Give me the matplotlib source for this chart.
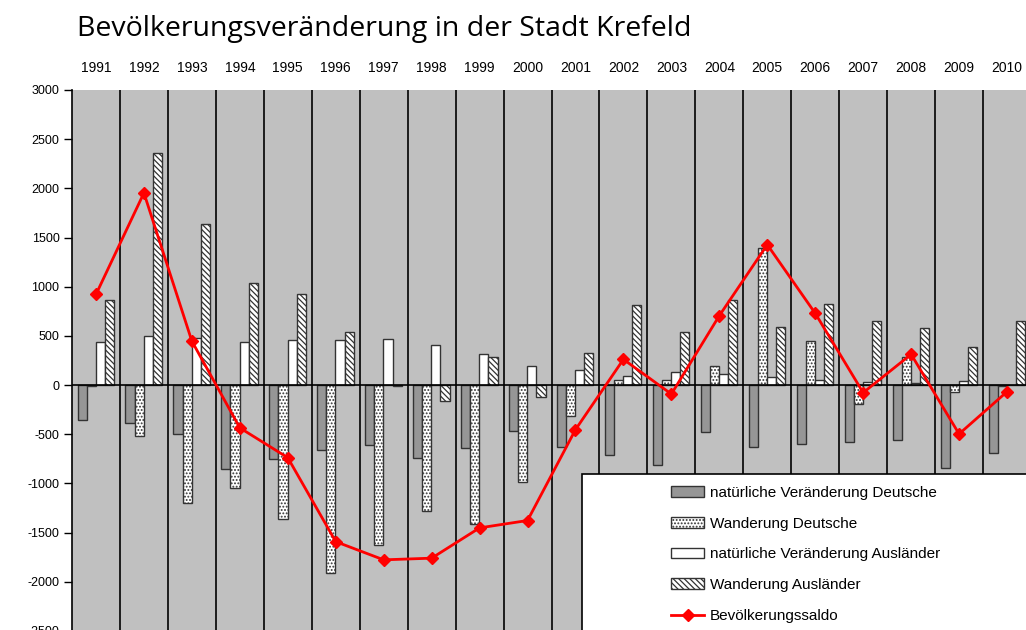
import numpy as np
import matplotlib
matplotlib.use("Agg")
import matplotlib.pyplot as plt
from matplotlib.patches import Rectangle

years = list(range(1991, 2011))
nat_deutsche = [-357, -386, -500, -857, -750, -657, -607, -739, -643, -471,
                -632, -711, -814, -475, -627, -603, -576, -563, -848, -695]
wand_deutsche = [-10, -518, -1196, -1050, -1364, -1914, -1632, -1286, -1418, -982,
                 -314, 50, 51, 197, 1390, 444, -197, 288, -75, -10]
nat_auslaender = [436, 496, 482, 436, 461, 461, 471, 404, 314, 196,
                  157, 89, 129, 115, 78, 51, 34, 17, 37, 0]
wand_auslaender = [864, 2357, 1639, 1036, 921, 539, -10, -161, 286, -121,
                   329, 814, 536, 864, 586, 824, 654, 576, 390, 654]
saldo = [921, 1953, 446, -436, -739, -1593, -1778, -1761, -1453, -1378,
         -454, 261, -92, 705, 1427, 729, -78, 312, -498, -68]

labels = ["natürliche Veränderung Deutsche", "Wanderung Deutsche",
          "natürliche Veränderung Ausländer", "Wanderung Ausländer",
          "Bevölkerungssaldo"]

plt.rcParams['font.family'] = ['Liberation Sans', 'DejaVu Sans']
plt.rcParams['hatch.linewidth'] = 0.9
plt.rcParams['axes.unicode_minus'] = False

W, H = 1026, 630
fig = plt.figure(figsize=(W / 100, H / 100), dpi=100)
# axes runs off the right and bottom edge like in the reference
ax = fig.add_axes([72 / W, (H - 680) / H, 959 / W, 590 / H])
ax.set_facecolor('#c0c0c0')

x = np.arange(len(years))
bw = 0.19
offs = [-0.29, -0.1, 0.09, 0.28]
b1 = ax.bar(x + offs[0], nat_deutsche, bw, color='#969696', edgecolor='#333333', lw=1, zorder=3)
b2 = ax.bar(x + offs[1], wand_deutsche, bw, color='white', edgecolor='#333333', hatch='.....', lw=1, zorder=3)
b3 = ax.bar(x + offs[2], nat_auslaender, bw, color='white', edgecolor='#333333', lw=1, zorder=3)
b4 = ax.bar(x + offs[3], wand_auslaender, bw, color='white', edgecolor='#333333', hatch='\\\\\\\\\\\\', lw=1, zorder=3)
ln, = ax.plot(x, saldo, color='red', lw=2, marker='D', ms=6, zorder=4)

for b in np.arange(len(years)) + 0.5:
    ax.axvline(b, color='black', lw=1.2, zorder=1)
ax.axhline(0, color='black', lw=1.2, zorder=3.5)

ax.set_xlim(-0.5, len(years) - 0.5)
ax.set_ylim(-3000, 3000)
ax.set_yticks(np.arange(-3000, 3001, 500))
ax.xaxis.tick_top()
ax.set_xticks(x)
ax.set_xticklabels(years)
ax.tick_params(axis='x', length=0, pad=11, labelsize=10)
ax.tick_params(axis='y', length=6, width=1, labelsize=9, pad=3)
for s in ['top', 'right', 'bottom']:
    ax.spines[s].set_visible(False)
ax.spines['left'].set_linewidth(1.2)

fig.text(77 / W, 1 - 29 / H, "Bevölkerungsveränderung in der Stadt Krefeld",
         fontsize=20.5, family=['Open Sans', 'DejaVu Sans'], va='center', ha='left')

# white legend box running past the figure edge
fig.patches.append(Rectangle((582 / W, -0.05), 0.5, (H - 474) / H + 0.05,
                             transform=fig.transFigure, facecolor='white',
                             edgecolor='black', lw=1.2, zorder=5))
leg = fig.legend([b1, b2, b3, b4, ln], labels, loc='upper left',
                 bbox_to_anchor=(657 / W, 1 - 472 / H), frameon=False,
                 fontsize=11, handlelength=2.2, handleheight=0.7,
                 labelspacing=1.1, handletextpad=0.35)
leg.set_zorder(6)

fig.savefig('out.png', dpi=100)
